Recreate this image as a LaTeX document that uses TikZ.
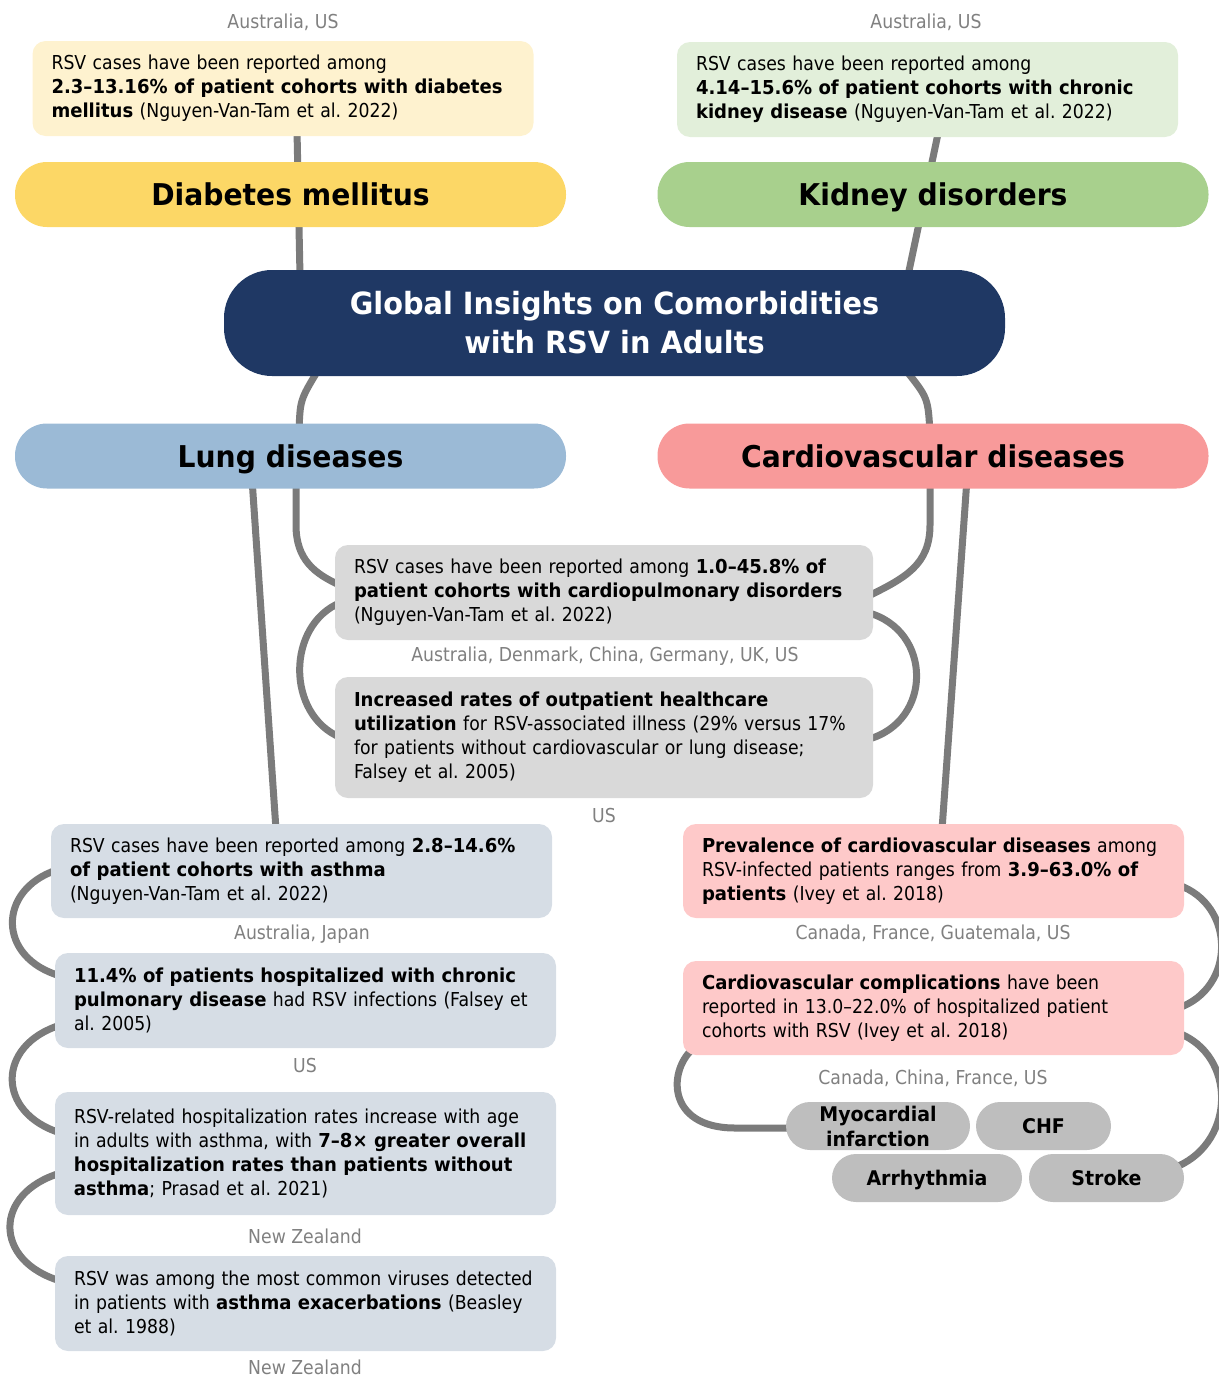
\documentclass[tikz,border=0pt]{standalone}
\usepackage{fontspec}
\setmainfont{DejaVu Sans}[FakeStretch=0.9,BoldFeatures={FakeStretch=0.94}]
\usetikzlibrary{calc,backgrounds}
\definecolor{linegray}{HTML}{7B7B7B}
\definecolor{ctygray}{HTML}{808080}
\definecolor{dmlight}{HTML}{FEF2CF}
\definecolor{dmdark}{HTML}{FCD766}
\definecolor{kdlight}{HTML}{E2EFDA}
\definecolor{kddark}{HTML}{A8D08D}
\definecolor{navy}{HTML}{1F3864}
\definecolor{lglight}{HTML}{D6DDE5}
\definecolor{lgdark}{HTML}{9BBAD6}
\definecolor{cvlight}{HTML}{FEC9C9}
\definecolor{cvdark}{HTML}{F89A9A}
\definecolor{cplight}{HTML}{D9D9D9}
\definecolor{cmpill}{HTML}{BEBEBE}
\frenchspacing

\begin{document}
\begin{tikzpicture}[x=.5pt,y=-.5pt,
  note/.style={fill=#1,rounded corners=6.5pt,inner xsep=9.5pt,inner ysep=0pt,text width=231.5pt,minimum height=47.5pt,align=left,font=\fontsize{9.6}{12}\selectfont},
  topic/.style={fill=#1,rounded corners=16pt,minimum width=275.5pt,minimum height=32.5pt,inner sep=0pt,text height=11pt,text depth=0pt,font=\fontsize{15}{19}\selectfont\bfseries},
  cplx/.style={fill=cmpill,rounded corners=12pt,minimum height=24pt,inner sep=0pt,align=center,font=\fontsize{10.1}{12.5}\selectfont\bfseries},
  oneline/.style={text height=7.4pt,text depth=0pt},
  where/.style={text=ctygray,inner sep=0pt,font=\fontsize{9.6}{12}\selectfont},
  link/.style={draw=linegray,line width=3.5pt}]
\useasboundingbox (0,0) rectangle (1219,1376);

\foreach \n/\p/\t in {au1/{283,22}/{Australia, US},au2/{926,22}/{Australia, US},
    multi/{605,656}/{Australia, Denmark, China, Germany, UK, US},us1/{604,816}/US,
    jp/{302,934}/{Australia, Japan},us2/{305,1065}/US,nz1/{305,1236}/{New Zealand},
    nz2/{305,1367}/{New Zealand},gt/{933,933}/{Canada, France, Guatemala, US},
    cn/{933,1078}/{Canada, China, France, US}}
  \node[where] (\n) at (\p) {\t};

\node[note=dmlight] (dmbox) at (283,88.5) {RSV cases have been reported among\\\textbf{2.3–13.16\% of patient cohorts with diabetes}\\\textbf{mellitus} (Nguyen-Van-Tam et al. 2022)};
\node[note=kdlight] (kdbox) at (927.5,89.5) {RSV cases have been reported among\\\textbf{4.14–15.6\% of patient cohorts with chronic}\\\textbf{kidney disease} (Nguyen-Van-Tam et al. 2022)};
\node[topic=dmdark] (dmpill) at (290.5,194.5) {Diabetes mellitus};
\node[topic=kddark] (kdpill) at (933,194.5) {Kidney disorders};
\node[fill=navy,text=white,rounded corners=24pt,minimum width=390.5pt,minimum height=53pt,align=center,font=\fontsize{15.3}{19.5}\selectfont\bfseries] (title) at (614.5,323) {Global Insights on Comorbidities\\with RSV in Adults};
\node[topic=lgdark] (lungpill) at (290.5,456) {Lung diseases};
\node[topic=cvdark] (cvpill) at (933,456) {Cardiovascular diseases};

\node[note=cplight,text width=250pt] (cp1) at (604,592.5) {RSV cases have been reported among \textbf{1.0–45.8\% of}\\\textbf{patient cohorts with cardiopulmonary disorders}\\(Nguyen-Van-Tam et al. 2022)};
\node[note=cplight,text width=250pt,minimum height=60.5pt] (cp2) at (604,737.5) {\textbf{Increased rates of outpatient healthcare}\\\textbf{utilization} for RSV-associated illness (29\% versus 17\%\\for patients without cardiovascular or lung disease;\\Falsey et al. 2005)};

\node[note=lglight,minimum height=47pt] (lg1) at (301.5,871) {RSV cases have been reported among \textbf{2.8–14.6\%}\\\textbf{of patient cohorts with asthma}\\(Nguyen-Van-Tam et al. 2022)};
\node[note=lglight] (lg2) at (305.5,1000.5) {\textbf{11.4\% of patients hospitalized with chronic}\\\textbf{pulmonary disease} had RSV infections (Falsey et\\al. 2005)};
\node[note=lglight,minimum height=61.5pt] (lg3) at (305.5,1153.5) {RSV-related hospitalization rates increase with age\\in adults with asthma, with \textbf{7–8× greater overall}\\\textbf{hospitalization rates than patients without}\\\textbf{asthma}; Prasad et al. 2021)};
\node[note=lglight] (lg4) at (305.5,1303.5) {RSV was among the most common viruses detected\\in patients with \textbf{asthma exacerbations} (Beasley\\et al. 1988)};

\node[note=cvlight,minimum height=47pt] (cv1) at (933.5,871) {\textbf{Prevalence of cardiovascular diseases} among\\RSV-infected patients ranges from \textbf{3.9–63.0\% of}\\\textbf{patients} (Ivey et al. 2018)};
\node[note=cvlight,minimum height=47pt] (cv2) at (933.5,1008) {\textbf{Cardiovascular complications} have been\\reported in 13.0–22.0\% of hospitalized patient\\cohorts with RSV (Ivey et al. 2018)};

\node[cplx,minimum width=92pt] (mi) at (878,1126) {Myocardial\\infarction};
\node[cplx,oneline,minimum width=67.5pt] (chf) at (1043.5,1126) {CHF};
\node[cplx,oneline,minimum width=95pt] (arr) at (927,1178) {Arrhythmia};
\node[cplx,oneline,minimum width=77.5pt] (stk) at (1106.5,1178) {Stroke};

\begin{scope}[on background layer]
\clip (0,0) rectangle (1219,1376);
\draw[link] ($(dmbox.south)+(14,-6)$) -- ($(title.north)+(-314.5,6)$);
\draw[link] ($(kdbox.south)+(11,-6)$) -- ($(title.north)+(293.5,6)$);
\draw[link] ($(title.south)+(-296.5,-6)$) .. controls (300,400) .. ($(lungpill.north)+(8.5,10)$);
\draw[link] ($(title.south)+(291.5,-6)$) .. controls (928,398) .. ($(cvpill.north)+(-3,10)$);
\draw[link] ($(lungpill.south)+(5.5,-10)$) -- (296,525) .. controls (296,560) and (315,574) .. ($(cp1.west)+(6,-7)$);
\draw[link] ($(cvpill.south)+(-3,-10)$) -- (930,525) .. controls (930,565) and (905,578) .. ($(cp1.east)+(-6,4)$);
\draw[link] ($(cp1.west)+(6,10)$) .. controls (286,625) and (286,715) .. ($(cp2.west)+(6,0)$);
\draw[link] ($(cp1.east)+(-6,20)$) .. controls (933,630) and (933,722) .. ($(cp2.east)+(-6,2)$);
\draw[link] ($(lungpill.south)+(-38.5,-10)$) -- ($(lg1.north)+(-25.5,6)$);
\draw[link] ($(cvpill.south)+(34,-10)$) -- ($(cv1.north)+(8.5,6)$);
\draw[link] ($(lg1.west)+(6,-1)$) .. controls (-3,890) and (-3,958) .. ($(lg2.west)+(6,-24.5)$);
\draw[link] ($(lg2.west)+(6,24.5)$) .. controls (-4,1045) and (-4,1113) .. ($(lg3.west)+(6,-20.5)$);
\draw[link] ($(lg3.west)+(6,19.5)$) .. controls (-7,1193) and (-7,1261) .. ($(lg4.west)+(6,-22.5)$);
\draw[link] ($(cv1.east)+(-6,14)$) .. controls (1236,905) and (1236,988) .. ($(cv2.east)+(-6,0)$);
\draw[link] ($(cv2.east)+(-6,25)$) .. controls (1236,1055) and (1236,1140) .. ($(stk.east)+(-6,-12)$);
\draw[link] ($(cv2.south west)+(12,-8)$) .. controls (668,1068) and (665,1128) .. (735,1128) -- ($(mi.west)+(8,2)$);
\end{scope}
\end{tikzpicture}
\end{document}
